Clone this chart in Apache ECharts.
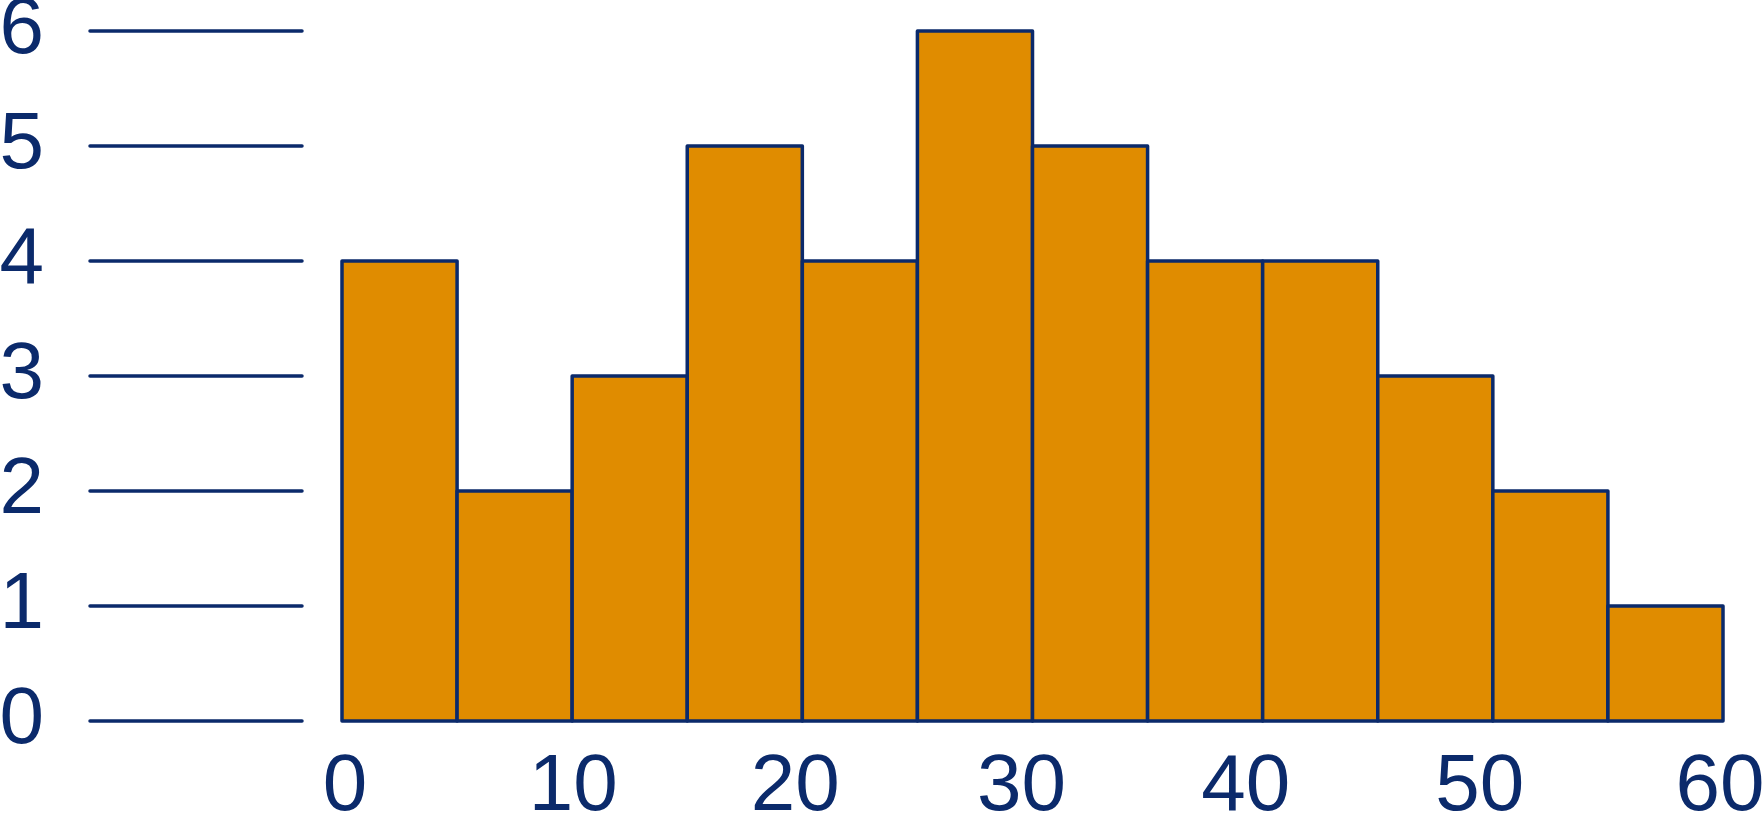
<!DOCTYPE html>
<html><head><meta charset="utf-8">
<script src="https://cdn.jsdelivr.net/npm/echarts@6/dist/echarts.min.js"></script>
<style>html,body{margin:0;padding:0;background:#fff}#c{width:1762px;height:816px}</style>
</head><body><div id="c"></div>
<script>
const binStarts = [0, 5, 10, 15, 20, 25, 30, 35, 40, 45, 50, 55];
const binWidth = 5;
const counts = [4, 2, 3, 5, 4, 6, 5, 4, 4, 3, 2, 1];
const xTicks = [0, 10, 20, 30, 40, 50, 60];
const yTicks = [0, 1, 2, 3, 4, 5, 6];

// small horizontal nudges (px) of the x tick labels, as placed in the original
const xLabelNudge = [3, 1, -7, -11, -17, -13, -3];

const NAVY = '#0b2a6b';
const FILL = '#e08c00';
const FONT = 'Liberation Sans';

const data = binStarts.map((s, i) => [s, s + binWidth, counts[i]]);

const rich = {};
xLabelNudge.forEach((d, i) => {
  rich['n' + i] = {
    color: NAVY, fontSize: 80, fontFamily: FONT,
    padding: d >= 0 ? [0, 0, 0, 2 * d] : [0, -2 * d, 0, 0]
  };
});

const chart = echarts.init(document.getElementById('c'), null, {renderer: 'canvas'});
chart.setOption({
  animation: false,
  backgroundColor: '#fff',
  grid: [
    {left: 90, width: 212, top: 31, bottom: 95, containLabel: false, outerBoundsMode: 'none'},
    {left: 342, right: 39, top: 31, bottom: 95, containLabel: false, outerBoundsMode: 'none'}
  ],
  xAxis: [
    {gridIndex: 0, type: 'value', min: 0, max: 1, show: false},
    {gridIndex: 1, type: 'value', min: xTicks[0], max: xTicks[xTicks.length - 1], interval: 10,
     axisLine: {show: false}, axisTick: {show: false}, splitLine: {show: false},
     axisLabel: {color: NAVY, fontSize: 80, fontFamily: FONT, margin: 27, showMinLabel: true, showMaxLabel: true,
       hideOverlap: false,
       formatter: function (v) {
         const i = xTicks.indexOf(v);
         return i >= 0 ? '{n' + i + '|' + v + '}' : String(v);
       },
       rich: rich}}
  ],
  yAxis: [
    {gridIndex: 0, type: 'value', min: yTicks[0], max: yTicks[yTicks.length - 1], interval: 1,
     axisLine: {show: false}, axisTick: {show: false},
     splitLine: {show: true, lineStyle: {color: NAVY, width: 3.5, cap: 'round'}},
     axisLabel: {color: NAVY, fontSize: 80, fontFamily: FONT, margin: 46}},
    {gridIndex: 1, type: 'value', min: 0, max: 6, show: false, splitLine: {show: false}}
  ],
  series: [{
    type: 'custom',
    xAxisIndex: 1, yAxisIndex: 1,
    data: data,
    encode: {x: [0, 1], y: 2},
    renderItem: function (params, api) {
      const p0 = api.coord([api.value(0), 0]);
      const p1 = api.coord([api.value(1), api.value(2)]);
      return {
        type: 'rect',
        shape: {x: p0[0], y: p1[1], width: p1[0] - p0[0], height: p0[1] - p1[1]},
        style: {fill: FILL, stroke: NAVY, lineWidth: 3.5, lineJoin: 'round'}
      };
    }
  }]
});
</script></body></html>
